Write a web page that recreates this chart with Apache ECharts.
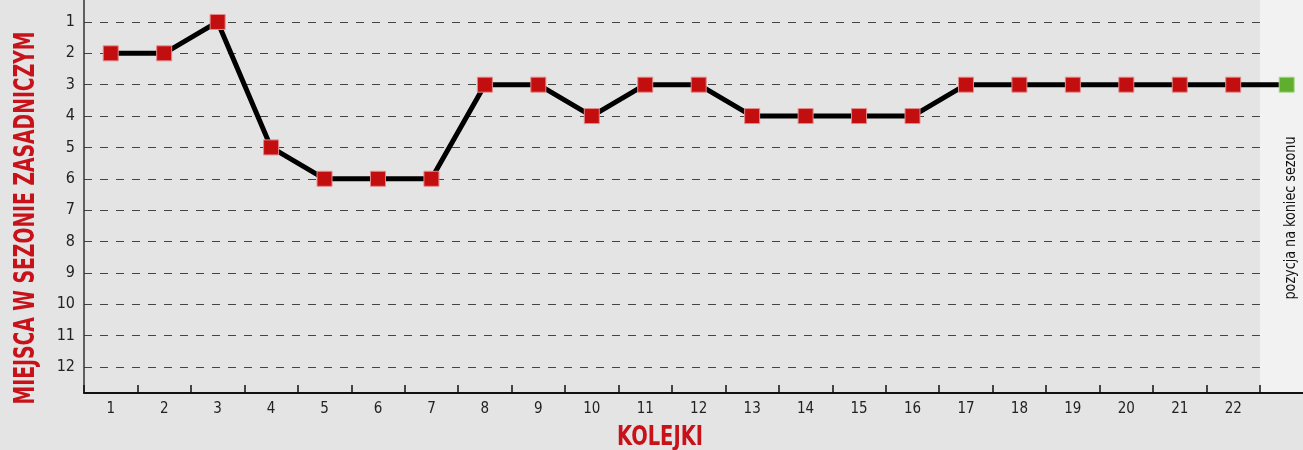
<!DOCTYPE html>
<html>
<head>
<meta charset="utf-8">
<script src="https://cdn.jsdelivr.net/npm/echarts@6/dist/echarts.min.js"></script>
<style>
  html, body { margin: 0; padding: 0; background: #e4e4e4; }
  #main { width: 1303px; height: 450px; }
</style>
</head>
<body>
<div id="main"></div>
<script>
// rounds (kolejki) 1..22, the last slot is the end-of-season position
var rounds = ['1', '2', '3', '4', '5', '6', '7', '8', '9', '10', '11',
  '12', '13', '14', '15', '16', '17', '18', '19', '20', '21', '22'];
var finalSlot = 'koniec';
var positions = [2, 2, 1, 5, 6, 6, 6, 3, 3, 4, 3, 3, 4, 4, 4, 4, 3, 3, 3, 3, 3, 3];
var finalPosition = 3;
var places = [1, 2, 3, 4, 5, 6, 7, 8, 9, 10, 11, 12];

var font = '"Liberation Sans Narrow", "DejaVu Sans Condensed", sans-serif';
var red = '#c8121a';

// squeeze a bold title to the length it has in the picture
function fitScale(text, css, target) {
  var ctx = document.createElement('canvas').getContext('2d');
  ctx.font = css;
  return target / ctx.measureText(text).width;
}

var categories = rounds.concat([finalSlot]);

var seriesData = positions.map(function (v) { return v; });
seriesData.push({
  value: finalPosition,
  itemStyle: { color: '#5fae2e', borderColor: '#a9d68f' }
});

// strip colours: plain for rounds, light for the final slot
var stripColors = rounds.map(function () { return 'rgba(0,0,0,0)'; });
stripColors.push('#f2f2f2');

var yTitle = 'MIEJSCA W SEZONIE ZASADNICZYM';
var yTitleFont = 'bold 29px ' + font;
var xTitle = 'KOLEJKI';
var xTitleFont = 'bold 26px ' + font;

var myChart = echarts.init(document.getElementById('main'));
var option = {
  backgroundColor: '#e4e4e4',
  animation: false,
  grid: {
    left: 84,
    right: -10.4,
    top: -9.4,
    bottom: 57,
    outerBoundsMode: 'none',
    containLabel: false
  },
  xAxis: {
    type: 'category',
    data: categories,
    boundaryGap: true,
    z: 1,
    axisLine: { onZero: false, lineStyle: { color: '#111', width: 2 } },
    axisTick: { show: true, inside: true, length: 8, lineStyle: { color: '#111', width: 1.5 } },
    axisLabel: {
      interval: 0,
      margin: 9,
      fontFamily: font,
      fontSize: 15,
      color: '#222',
      formatter: function (v) { return v === finalSlot ? '' : v; }
    },
    splitLine: { show: false },
    splitArea: { show: true, areaStyle: { color: stripColors } }
  },
  yAxis: {
    type: 'value',
    inverse: true,
    min: 0,
    max: 12.83,
    interval: 1,
    axisLine: { show: true, lineStyle: { color: '#333', width: 1.5 } },
    axisTick: { show: false },
    axisLabel: {
      margin: 9,
      fontFamily: font,
      fontSize: 16,
      color: '#222',
      showMaxLabel: false,
      formatter: function (v) { return places.indexOf(v) >= 0 ? String(v) : ''; }
    },
    splitLine: { show: true, lineStyle: { color: '#444', width: 1, type: [8, 8] } }
  },
  graphic: [
    {
      type: 'text',
      z: 10,
      x: 660,
      y: 438,
      scaleX: fitScale(xTitle, xTitleFont, 86),
      style: {
        text: xTitle,
        fill: red,
        font: xTitleFont,
        textAlign: 'center',
        textVerticalAlign: 'middle'
      }
    },
    {
      type: 'text',
      z: 10,
      x: 26,
      y: 218,
      rotation: Math.PI / 2,
      scaleX: fitScale(yTitle, yTitleFont, 373),
      style: {
        text: yTitle,
        fill: red,
        font: yTitleFont,
        textAlign: 'center',
        textVerticalAlign: 'middle'
      }
    },
    {
      type: 'text',
      z: 10,
      x: 1291,
      y: 218,
      rotation: Math.PI / 2,
      scaleX: fitScale('pozycja na koniec sezonu', '15px ' + font, 163),
      style: {
        text: 'pozycja na koniec sezonu',
        fill: '#111',
        font: '15px ' + font,
        textAlign: 'center',
        textVerticalAlign: 'middle'
      }
    }
  ],
  series: [
    {
      type: 'line',
      data: seriesData,
      z: 3,
      symbol: 'rect',
      symbolSize: 15,
      showAllSymbol: true,
      lineStyle: { color: '#000', width: 5 },
      itemStyle: { color: '#c20e0e', borderColor: '#e48a8a', borderWidth: 1 },
      emphasis: { disabled: true }
    }
  ]
};
myChart.setOption(option);
</script>
</body>
</html>
